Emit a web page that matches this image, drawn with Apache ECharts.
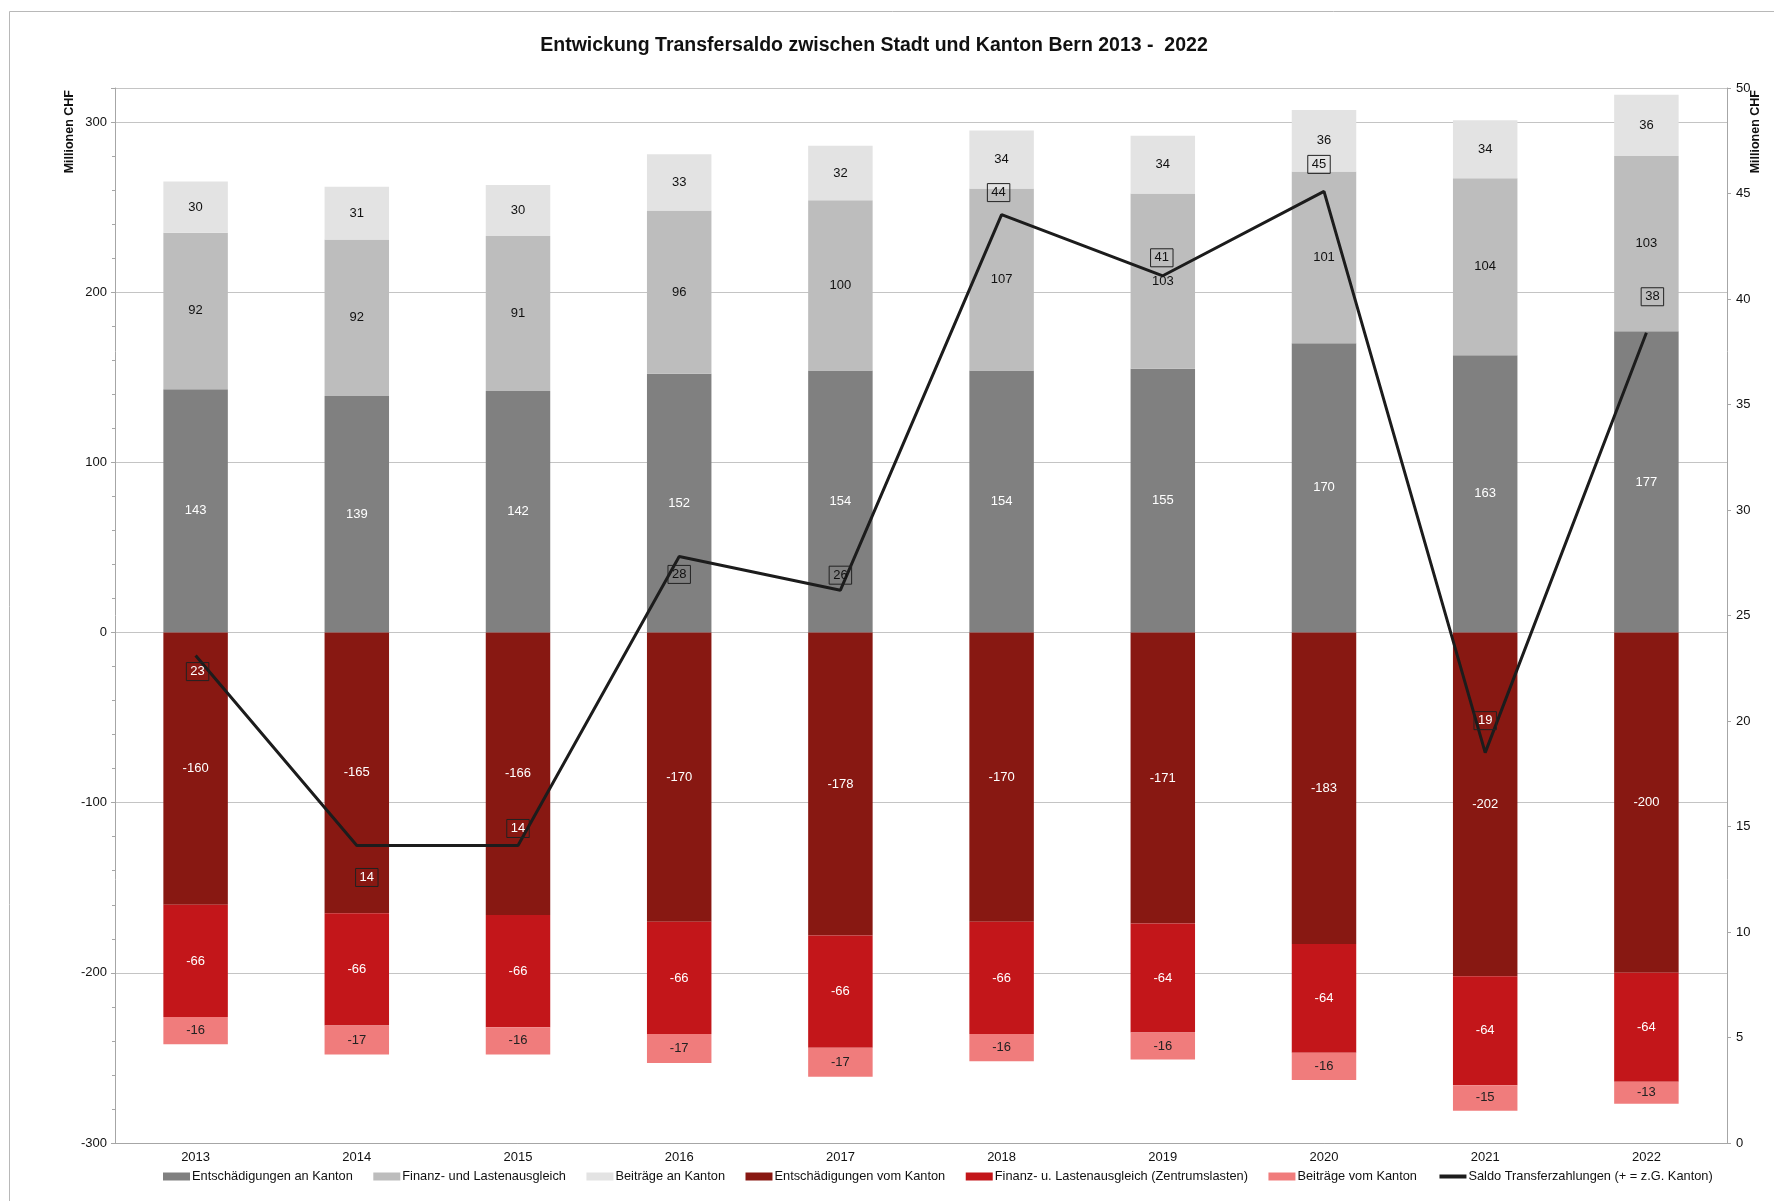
<!DOCTYPE html>
<html><head><meta charset="utf-8">
<script src="https://cdn.jsdelivr.net/npm/echarts@6/dist/echarts.min.js"></script>
<style>html,body{margin:0;padding:0;background:#fff}#c{width:1774px;height:1201px}</style>
</head><body><div id="c"></div>
<script>
const years = ['2013','2014','2015','2016','2017','2018','2019','2020','2021','2022'];
const entschAn = [143,139,142,152,154,154,155,170,163,177];
const flaAn = [92,92,91,96,100,107,103,101,104,103];
const beitrAn = [30,31,30,33,32,34,34,36,34,36];
const entschVom = [-160,-165,-166,-170,-178,-170,-171,-183,-202,-200];
const flaVom = [-66,-66,-66,-66,-66,-66,-64,-64,-64,-64];
const beitrVom = [-16,-17,-16,-17,-17,-16,-16,-16,-15,-13];
const saldo = [23.1,14.1,14.1,27.8,26.2,44.0,41.1,45.1,18.5,38.4];
const saldoLabels = ['23','14','14','28','26','44','41','45','19','38'];
const leftTicks = [-300,-200,-100,0,100,200,300];
const rightTicks = [0,5,10,15,20,25,30,35,40,45,50];

const narrow = '"Liberation Sans Narrow","Arial Narrow","Liberation Sans",Arial,sans-serif';
const arial = '"Liberation Sans",Arial,sans-serif';
const labelOffsets = [[2,16],[10,32],[0,-17],[0,18],[0,-15],[-3,-22],[-1,-18],[-5,-27],[0,-32],[6,-36]];
const whiteLbl = [true,true,true,false,false,false,false,false,true,false];

function barSeries(name, data, color, txt){
  return {
    name, type:'bar', stack:'s', data, barWidth:'40%',
    itemStyle:{color},
    label:{show:true, position:'inside', color:txt, fontSize:13, fontFamily:arial,
      formatter:p=>String(p.value)},
    emphasis:{disabled:true}
  };
}

const chart = echarts.init(document.getElementById('c'), null, {renderer:'canvas'});
chart.setOption({
  animation:false,
  backgroundColor:'#fff',
  title:{text:'Entwickung Transfersaldo zwischen Stadt und Kanton Bern 2013 -  2022',
    left:869, top:31, textAlign:'center',
    textStyle:{fontSize:19.5, fontWeight:'bold', color:'#111', fontFamily:arial}},
  graphic:[
    {type:'rect', shape:{x:9.5,y:11.5,width:1800,height:1300}, style:{fill:'none',stroke:'#b8b8b8',lineWidth:1}, silent:true, z:-10},
    {type:'text', x:70, y:90, rotation:Math.PI/2, style:{text:'Millionen CHF', fontSize:12.5, fontWeight:'bold', fontFamily:arial, fill:'#111', textAlign:'right', textVerticalAlign:'middle'}},
    {type:'text', x:1756, y:90, rotation:Math.PI/2, style:{text:'Millionen CHF', fontSize:12.5, fontWeight:'bold', fontFamily:arial, fill:'#111', textAlign:'right', textVerticalAlign:'middle'}}
  ],
  legend:{
    left:158, right:0, top:1165, itemWidth:27, itemHeight:8, itemGap:20.5,
    textStyle:{fontSize:12.8, fontFamily:narrow, color:'#111', padding:[0,0,0,-3]},
    data:[
      {name:'Entschädigungen an Kanton', icon:'rect'},
      {name:'Finanz- und Lastenausgleich', icon:'rect'},
      {name:'Beiträge an Kanton', icon:'rect'},
      {name:'Entschädigungen vom Kanton', icon:'rect'},
      {name:'Finanz- u. Lastenausgleich (Zentrumslasten)', icon:'rect'},
      {name:'Beiträge vom Kanton', icon:'rect'},
      {name:'Saldo Transferzahlungen (+ = z.G. Kanton)', itemStyle:{opacity:0}, lineStyle:{width:4, color:'#1c1c1c'}}
    ]
  },
  grid:{left:115, right:47, top:88, bottom:58},
  xAxis:{type:'category', data:years,
    axisLine:{onZero:false, lineStyle:{color:'#a6a6a6'}},
    axisTick:{show:false},
    axisLabel:{fontSize:13, fontFamily:narrow, color:'#111', margin:8}},
  yAxis:[
    {type:'value', min:-300, max:320, interval:100,
      axisLine:{show:true, lineStyle:{color:'#a6a6a6'}},
      axisTick:{show:true, length:4, lineStyle:{color:'#a6a6a6'}},
      minorTick:{show:true, splitNumber:5, length:3, lineStyle:{color:'#a6a6a6'}},
      splitLine:{show:true, lineStyle:{color:'#c4c4c4'}},
      axisLabel:{fontSize:13, fontFamily:narrow, color:'#111', margin:8, showMaxLabel:false,
        formatter:v=>leftTicks.includes(v)?String(v):''}},
    {type:'value', min:0, max:50, interval:5, position:'right',
      axisLine:{show:true, lineStyle:{color:'#a6a6a6'}},
      axisTick:{show:true, length:4, lineStyle:{color:'#a6a6a6'}},
      splitLine:{show:false},
      axisLabel:{fontSize:13, fontFamily:arial, color:'#111', margin:9,
        formatter:v=>rightTicks.includes(v)?String(v):''}}
  ],
  series:[
    barSeries('Entschädigungen an Kanton', entschAn, '#808080', '#fff'),
    barSeries('Finanz- und Lastenausgleich', flaAn, '#bdbdbd', '#111'),
    barSeries('Beiträge an Kanton', beitrAn, '#e3e3e3', '#111'),
    barSeries('Entschädigungen vom Kanton', entschVom, '#881812', '#fff'),
    barSeries('Finanz- u. Lastenausgleich (Zentrumslasten)', flaVom, '#c3161a', '#fff'),
    barSeries('Beiträge vom Kanton', beitrVom, '#f07c7c', '#222'),
    {
      name:'Saldo Transferzahlungen (+ = z.G. Kanton)', type:'line', yAxisIndex:1, z:10,
      data: saldo.map((v,i)=>({value:v, label:{offset:labelOffsets[i], color: whiteLbl[i]?'#fff':'#111'}})),
      symbol:'circle', symbolSize:0, showSymbol:true,
      lineStyle:{color:'#1c1c1c', width:3},
      itemStyle:{color:'#1c1c1c'},
      label:{show:true, position:'inside', fontSize:13, fontFamily:arial,
        borderColor:'#222', borderWidth:1, padding:[3,4,2,4],
        formatter:p=>saldoLabels[p.dataIndex]},
      emphasis:{disabled:true}
    }
  ]
});
</script></body></html>
